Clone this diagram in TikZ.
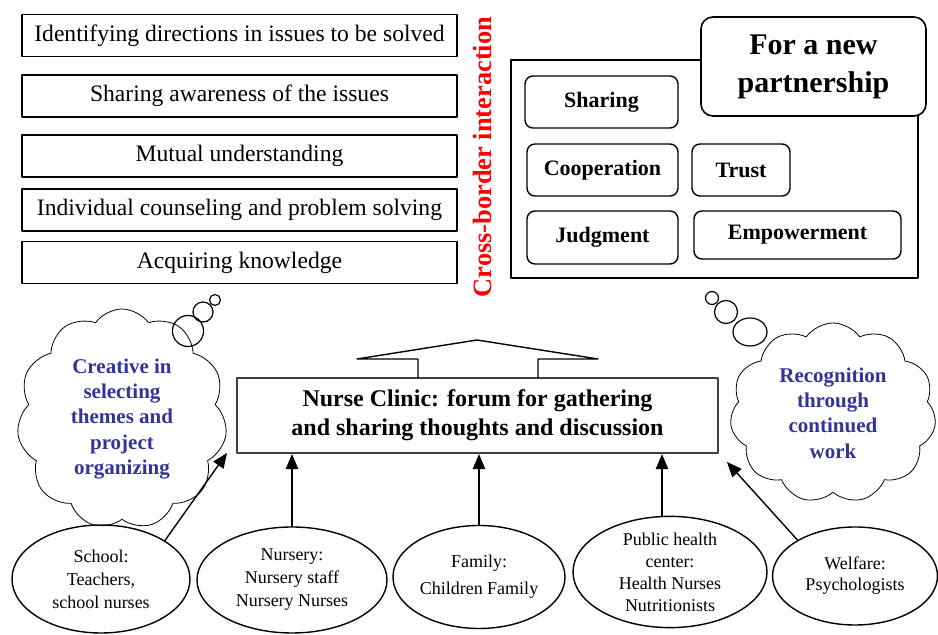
\documentclass[tikz,border=0pt]{standalone}
\usepackage{fontspec}
\setmainfont{Liberation Serif}
\usetikzlibrary{arrows}
\usetikzlibrary{shapes.geometric,shapes.symbols}
\definecolor{cloudblue}{RGB}{51,51,153}

\begin{document}
\begin{tikzpicture}[line cap=round,line join=round,>=triangle 45,x=0.5pt,y=-0.5pt,
  levelbox/.style={draw,line width=0.9pt,minimum width=217.5pt,minimum height=21pt,inner sep=0pt,font=\fontsize{11.8}{13}\selectfont},
  partbox/.style={draw,rounded corners=4pt,line width=0.7pt,minimum height=26pt,inner sep=0pt,font=\bfseries\fontsize{11}{13}\selectfont},
  thought/.style={draw,cloud,cloud puffs=11,cloud puff arc=110,aspect=1,inner sep=0pt,minimum width=105pt,minimum height=100pt,align=center,text=cloudblue,font=\bfseries\fontsize{10.5}{12.7}\selectfont},
  bubble/.style={draw,circle,inner sep=0pt,line width=0.6pt},
  member/.style={draw,ellipse,inner sep=0pt,line width=0.7pt,align=center,font=\fontsize{9}{11.5}\selectfont}]
\useasboundingbox (0,0) rectangle (938,635);

% levels of the clinic
\node[levelbox] (dir) at (239.5,35.5) {Identifying directions in issues to be solved};
\node[levelbox] (aware) at (239.5,96) {Sharing awareness of the issues};
\node[levelbox] (mutual) at (239.5,156) {Mutual understanding};
\node[levelbox] (counsel) at (239.5,210) {Individual counseling and problem solving};
\node[levelbox] (know) at (239.5,262.5) {Acquiring knowledge};
\node[rotate=90,text=red,font=\bfseries\fontsize{13.2}{15}\selectfont] (cross) at (482,157) {Cross-border interaction};

% partnership frame
\draw[line width=0.7pt] (511,60) rectangle (918,278);
\node[draw,fill=white,rounded corners=6pt,line width=0.8pt,minimum width=112.5pt,minimum height=49.5pt,align=center,
  font=\bfseries\fontsize{15}{19}\selectfont] (new) at (813.5,66.5) {For a new\\partnership};
\node[partbox,minimum width=76.5pt] (share) at (601.5,102) {Sharing};
\node[partbox,minimum width=75.5pt] (coop) at (602.5,170) {Cooperation};
\node[partbox,minimum width=49pt] (trust) at (741,170) {Trust};
\node[partbox,minimum width=75.5pt,minimum height=26.5pt] (judge) at (602.5,237.5) {Judgment};
\node[partbox,minimum width=103.5pt,minimum height=24pt] (power) at (797.5,235) {Empowerment};

% the clinic
\node[draw,line width=1.1pt,draw=black!75,minimum width=240.5pt,minimum height=37.5pt,align=center,
  font=\bfseries\fontsize{12}{14.5}\selectfont] (clinic) at (477.5,415.5)
  {Nurse Clinic: forum for gathering\\and sharing thoughts and discussion};
\draw[line width=0.7pt] (418,378) -- (418,359) -- (357,359) -- (477,340) -- (598,359) -- (538,359) -- (538,378);

% thoughts
\node[thought,minimum height=110pt] (creative) at (122,419) {Creative in\\selecting\\themes and\\project\\organizing};
\node[bubble,minimum size=15.5pt] (cb1) at (188,331) {};
\node[bubble,minimum size=10pt] (cb2) at (203,312) {};
\node[bubble,minimum size=5.5pt] (cb3) at (215,300) {};
\node[thought,minimum width=103pt,minimum height=90pt] (recog) at (833,413) {Recognition\\through\\continued\\work};
\node[bubble,ellipse,minimum width=17pt,minimum height=14pt] (rb1) at (750,332) {};
\node[bubble,minimum size=11.5pt] (rb2) at (726,312) {};
\node[bubble,minimum size=6.5pt] (rb3) at (712,298) {};

% members
\node[member,minimum width=89pt,minimum height=54pt] (school) at (101,579) {School:\\Teachers,\\school nurses};
\node[member,minimum width=95pt,minimum height=53pt] (nursery) at (292,580) {Nursery:\\Nursery staff\\Nursery Nurses};
\node[member,minimum width=86pt,minimum height=51.5pt,font=\fontsize{9}{13.5}\selectfont] (family) at (479,577) {Family:\\Children Family};
\node[member,minimum width=97pt,minimum height=55.5pt,font=\fontsize{9}{11}\selectfont] (public) at (670,572) {Public health\\center:\\Health Nurses\\Nutritionists};
\node[member,minimum width=82.5pt,minimum height=49pt,font=\fontsize{9}{10.5}\selectfont] (welfare) at (855,576) {Welfare:\\Psychologists};

\coordinate (stip) at (227,453);
\coordinate (wtip) at (727,462);
\draw[->,line width=0.7pt] (school.31) -- (stip);
\draw[->,line width=0.7pt] (nursery.north) -- (nursery.north |- clinic.south);
\draw[->,line width=0.7pt] (family.north) -- (family.north |- clinic.south);
\draw[->,line width=0.7pt] ([xshift=-4pt]public.north) -- ([xshift=-4pt]public.north |- clinic.south);
\draw[->,line width=0.7pt] (welfare.148) -- (wtip);
\end{tikzpicture}
\end{document}
